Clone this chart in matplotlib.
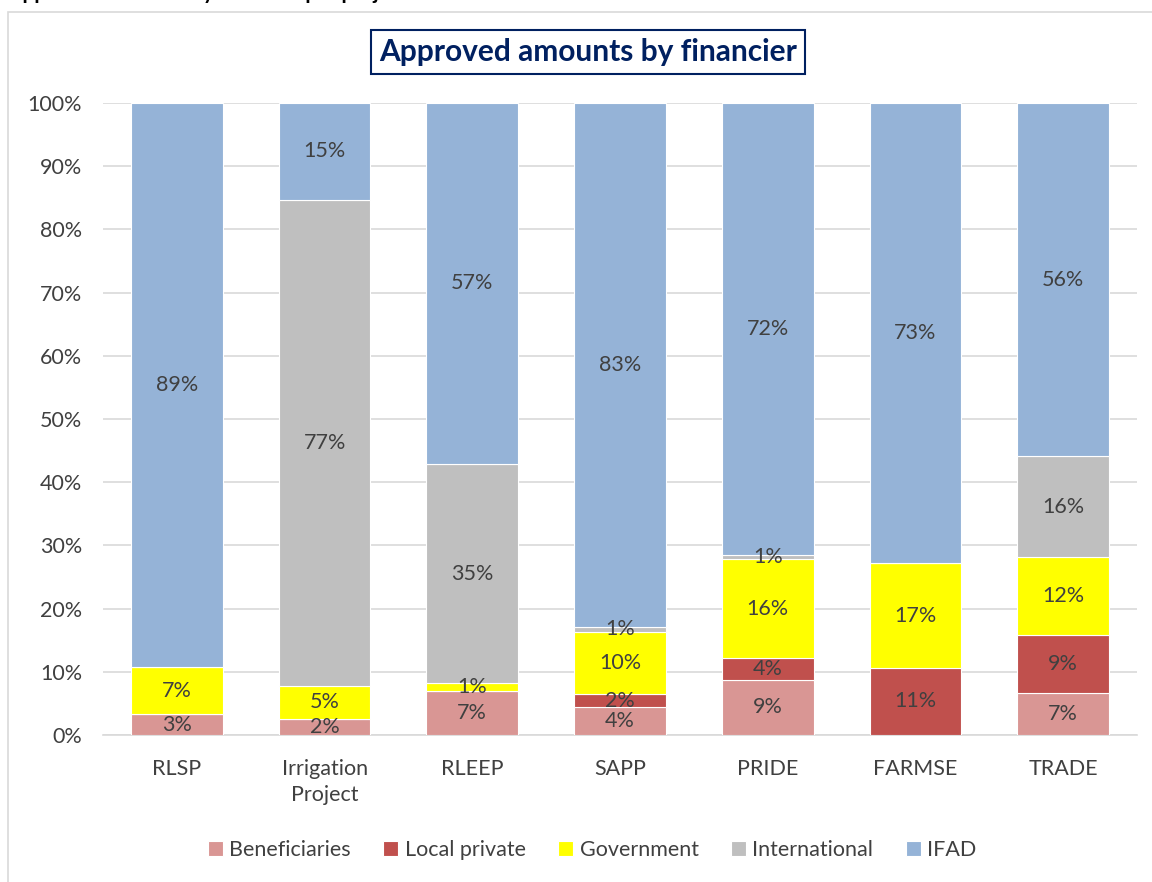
import matplotlib
matplotlib.use("Agg")
import matplotlib.pyplot as plt
from matplotlib.patches import Rectangle
from matplotlib.ticker import PercentFormatter
import numpy as np

# values (%)
projects = ["RLSP", "Irrigation\nProject", "RLEEP", "SAPP", "PRIDE", "FARMSE", "TRADE"]
beneficiaries = [3.3, 2.5, 7.0, 4.4, 8.7, 0.0, 6.6]
local_private = [0.0, 0.0, 0.0, 2.1, 3.5, 10.6, 9.2]
government = [7.4, 5.3, 1.2, 9.8, 15.6, 16.6, 12.4]
international = [0.0, 76.9, 34.7, 0.8, 0.6, 0.0, 15.9]
ifad = [89.3, 15.3, 57.1, 82.9, 71.6, 72.8, 55.9]

series = [
    ("Beneficiaries", beneficiaries, "#D99694"),
    ("Local private", local_private, "#C0504D"),
    ("Government", government, "#FFFF00"),
    ("International", international, "#BFBFBF"),
    ("IFAD", ifad, "#95B3D7"),
]

plt.rcParams["font.family"] = ["Lato", "DejaVu Sans"]
txt = "#404040"

fig = plt.figure(figsize=(11.52, 8.82), dpi=100)
ax = fig.add_axes([0.0894, 0.1667, 0.8976, 0.7165])

# outer chart border and the heading above it, cut by the page edge
fig.patches.append(Rectangle((8 / 1152, -0.05), 1.2, 1 - 12 / 882 + 0.05,
                             transform=fig.transFigure, fill=False,
                             edgecolor="#D9D9D9", lw=1.2))
fig.text(8 / 1152, 1 + 1 / 882, "Approved amounts by financier per project",
         fontsize=15, fontweight="bold", color="black", va="baseline")

x = np.arange(len(projects))
bottom = np.zeros(len(projects))
for name, vals, col in series:
    vals = np.array(vals)
    ax.bar(x, vals, 0.62, bottom=bottom, color=col, edgecolor="white",
           linewidth=0.8, label=name, zorder=3)
    for xi, b, v in zip(x, bottom, vals):
        if v > 0:
            ax.text(xi, b + v / 2, f"{v:.0f}%", ha="center", va="center",
                    fontsize=15.5, color=txt, zorder=4)
    bottom += vals

ax.set_xlim(-0.5, len(projects) - 0.5)
ax.set_ylim(0, 100)
ax.set_yticks(np.arange(0, 101, 10))
ax.yaxis.set_major_formatter(PercentFormatter(decimals=0))
ax.set_xticks(x)
ax.set_xticklabels(projects, linespacing=1.4)
ax.tick_params(axis="both", length=0, labelsize=15.5, labelcolor=txt)
ax.tick_params(axis="y", pad=15)
ax.tick_params(axis="x", pad=17)
ax.grid(axis="y", color="#D9D9D9", lw=1.2, zorder=0)
for s in ["top", "right", "left"]:
    ax.spines[s].set_visible(False)
ax.spines["bottom"].set_color("#D9D9D9")
ax.spines["bottom"].set_linewidth(1.2)

fig.text(588 / 1152, 1 - 52 / 882, "Approved amounts by financier",
         fontsize=21.5, fontweight="bold", color="#002060",
         ha="center", va="center",
         bbox=dict(boxstyle="square,pad=0.28", facecolor="white",
                   edgecolor="#002060", lw=1.5))

ax.legend(loc="center", bbox_to_anchor=(0.473, -0.182), ncol=5, frameon=False,
          fontsize=15.5, labelcolor=txt, handlelength=0.7, handleheight=0.7,
          handletextpad=0.3, columnspacing=1.5)

fig.savefig("out.png", dpi=100)
